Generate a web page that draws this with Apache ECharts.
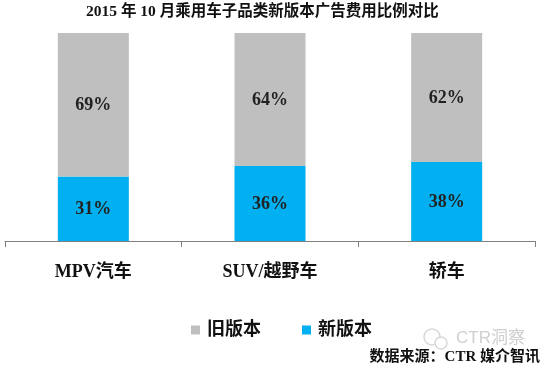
<!DOCTYPE html>
<html>
<head>
<meta charset="utf-8">
<style>html,body{margin:0;padding:0;background:#fff}#chart{width:542px;height:368px}</style>
<script src="https://cdn.jsdelivr.net/npm/echarts@6/dist/echarts.min.js"></script>
</head>
<body>
<div id="chart"></div>
<script>
const categories = ['MPV汽车', 'SUV/越野车', '轿车'];
const newVersion = [31, 36, 38];
const oldVersion = [69, 64, 62];
const titleText = '2015 年 10 月乘用车子品类新版本广告费用比例对比';
const sourceText = '数据来源：CTR 媒介智讯';
const watermarkText = 'CTR洞察';

const serif = '"Liberation Serif","Noto Sans CJK SC",serif';
const chart = echarts.init(document.getElementById('chart'), null, { renderer: 'canvas' });

const barLabel = {
    show: true,
    position: 'inside',
    formatter: '{c}%',
    color: '#222222',
    fontFamily: serif,
    fontSize: 18,
    fontWeight: 'bold',
    offset: [0, 1]
};

chart.setOption({
    animation: false,
    backgroundColor: '#ffffff',
    title: {
        text: titleText,
        left: 81,
        top: -1,
        textStyle: { fontFamily: serif, fontSize: 15.5, fontWeight: 'bold', color: '#111111' }
    },
    legend: {
        data: ['旧版本', '新版本'],
        left: 186,
        top: 316,
        icon: 'rect',
        itemWidth: 9,
        itemHeight: 9,
        itemGap: 41,
        textStyle: { fontFamily: serif, fontSize: 18, fontWeight: 'bold', color: '#111111', padding: [0, 0, 0, 2] }
    },
    grid: { left: 5, right: 7, top: 33, bottom: 127 },
    xAxis: {
        type: 'category',
        data: categories,
        axisLine: { lineStyle: { color: '#808080', width: 1 } },
        axisTick: { show: true, length: 6, alignWithLabel: false, lineStyle: { color: '#808080' } },
        axisLabel: { margin: 22, fontFamily: serif, fontSize: 18, fontWeight: 'bold', color: '#111111' }
    },
    yAxis: { type: 'value', min: 0, max: 100, show: false },
    series: [
        { name: '新版本', type: 'bar', stack: 'a', barWidth: 71, data: newVersion, itemStyle: { color: '#00b0f0' }, label: barLabel },
        { name: '旧版本', type: 'bar', stack: 'a', barWidth: 71, data: oldVersion, itemStyle: { color: '#bfbfbf' }, label: barLabel }
    ],
    graphic: [
        { type: 'text', left: 456, top: 330, style: { text: watermarkText, fontFamily: '"Liberation Sans","Noto Sans CJK SC",sans-serif', fontSize: 17, fill: '#cfcfcf' } },
        { type: 'text', right: 2, top: 350, style: { text: sourceText, fontFamily: serif, fontSize: 15, fontWeight: 'bold', fill: '#111111' } },
        { type: 'circle', shape: { cx: 432, cy: 337, r: 8 }, style: { fill: 'none', stroke: '#d8d8d8', lineWidth: 1.5 } },
        { type: 'circle', shape: { cx: 441, cy: 343, r: 6 }, style: { fill: '#ffffff', stroke: '#d8d8d8', lineWidth: 1.5 } }
    ]
});
</script>
</body>
</html>
